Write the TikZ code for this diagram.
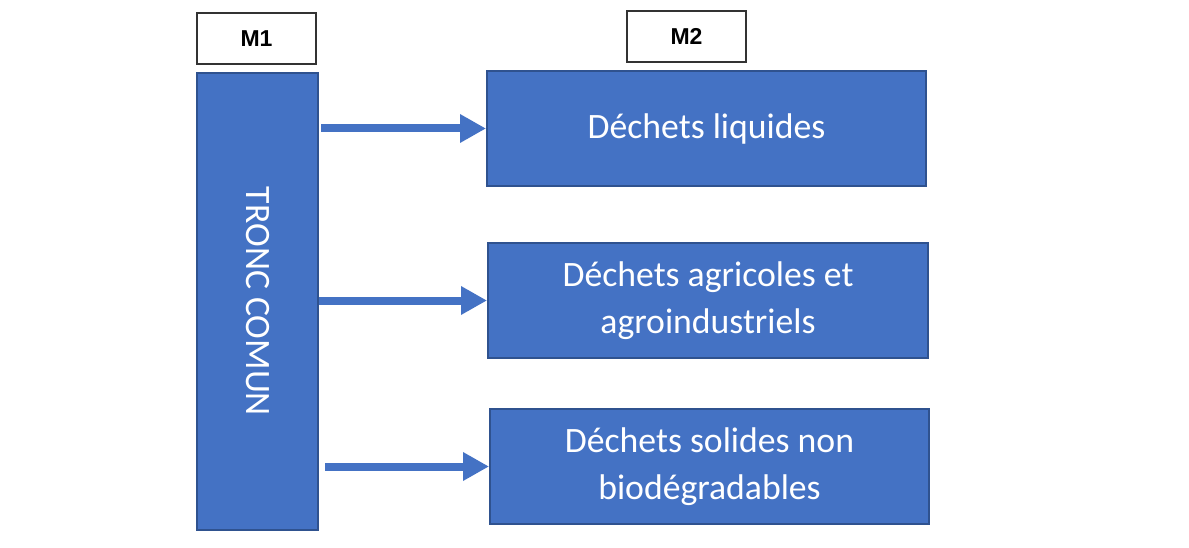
\documentclass[tikz,border=0pt]{standalone}
\usepackage{fontspec}
\usepackage{graphicx}
\setmainfont{Carlito}
\newfontfamily\titrefont{Liberation Sans}
\usetikzlibrary{arrows.meta}
\definecolor{bleu}{HTML}{4472C4}
\definecolor{bleufonce}{HTML}{2F528F}

\begin{document}
\begin{tikzpicture}[x=1pt, y=-1pt,
    mbox/.style={draw=black!80, line width=1.2pt, fill=white, minimum width=119pt, minimum height=51pt, inner sep=0pt, font=\titrefont\bfseries\fontsize{23}{27}\selectfont},
    bloc/.style={draw=bleufonce, line width=2pt, fill=bleu, text=white, align=center, minimum width=439pt, minimum height=115pt, inner sep=0pt, font=\fontsize{35.7}{47}\selectfont},
    fleche/.style={draw=bleu, line width=8pt, -{Triangle[length=26pt,width=27pt]}}]
        \useasboundingbox (0,0) rectangle (1189,548);

        \node[mbox] (m1) at (256.5,38.5) {M1};
        \node[mbox] (m2) at (686.5,36.5) {M2};

        \node[bloc, minimum width=121pt, minimum height=457pt] (tronc) at (257.5,301.5) {\rotatebox{-90}{TRONC COMUN}};

        \node[bloc] (liquides) at (706.5,128.5) {\raisebox{5pt}{Déchets liquides}};
        \node[bloc, minimum width=440pt] (agricoles) at (708,300.5) {Déchets agricoles et\\agroindustriels};
        \node[bloc] (solides) at (709.5,466.5) {Déchets solides non\\biodégradables};

        \draw[fleche] ([xshift=2pt]tronc.east |- liquides.west) -- (liquides.west);
        \draw[fleche] (tronc.east |- agricoles.west) -- (agricoles.west);
        \draw[fleche] ([xshift=6pt]tronc.east |- solides.west) -- (solides.west);
    \end{tikzpicture}
\end{document}
